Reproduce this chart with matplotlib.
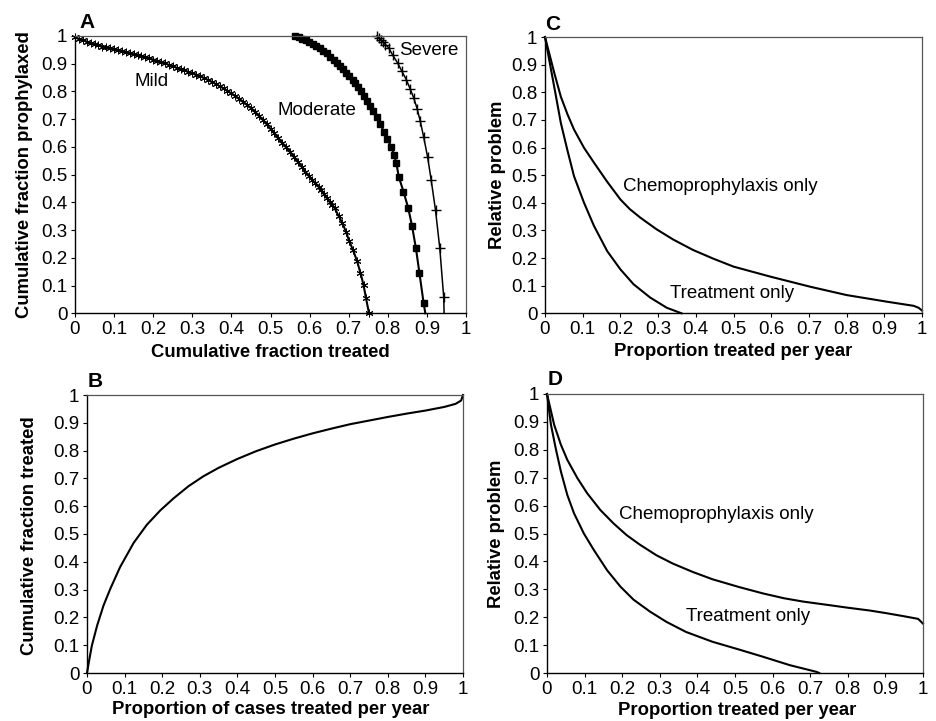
import matplotlib
matplotlib.use("Agg")
import matplotlib.pyplot as plt
import numpy as np

plt.rcParams['font.family'] = ['Liberation Sans', 'DejaVu Sans']

# ---------------- Panel A data ----------------
mild_x = [0.000, 0.010, 0.020, 0.030, 0.040, 0.050, 0.060, 0.070, 0.080, 0.090,
          0.100, 0.110, 0.120, 0.130, 0.140, 0.150, 0.160, 0.170, 0.180, 0.190,
          0.200, 0.210, 0.220, 0.230, 0.240, 0.250, 0.260, 0.270, 0.280, 0.290,
          0.300, 0.310, 0.320, 0.330, 0.340, 0.350, 0.360, 0.370, 0.380, 0.390,
          0.400, 0.410, 0.420, 0.430, 0.440, 0.450, 0.460, 0.470, 0.480, 0.490,
          0.500, 0.510, 0.520, 0.530, 0.540, 0.550, 0.560, 0.570, 0.580, 0.589,
          0.598, 0.607, 0.615, 0.623, 0.630, 0.636, 0.644, 0.651, 0.658, 0.664,
          0.674, 0.684, 0.693, 0.701, 0.711, 0.721, 0.730, 0.738, 0.744, 0.752]
mild_y = [0.995, 0.990, 0.985, 0.980, 0.976, 0.971, 0.967, 0.962, 0.959, 0.955,
          0.952, 0.949, 0.945, 0.942, 0.938, 0.935, 0.931, 0.927, 0.923, 0.919,
          0.915, 0.911, 0.906, 0.901, 0.896, 0.891, 0.886, 0.881, 0.876, 0.871,
          0.866, 0.861, 0.855, 0.849, 0.842, 0.835, 0.827, 0.819, 0.811, 0.802,
          0.793, 0.784, 0.774, 0.763, 0.752, 0.740, 0.727, 0.713, 0.698, 0.682,
          0.665, 0.649, 0.632, 0.615, 0.598, 0.582, 0.564, 0.546, 0.528, 0.511,
          0.496, 0.481, 0.469, 0.457, 0.444, 0.430, 0.416, 0.402, 0.391, 0.379,
          0.352, 0.325, 0.294, 0.262, 0.228, 0.190, 0.146, 0.102, 0.056, 0.000]

moderate_x = [0.563, 0.572, 0.581, 0.590, 0.599, 0.608, 0.617, 0.626, 0.635, 0.644,
              0.653, 0.662, 0.670, 0.678, 0.686, 0.694, 0.702, 0.710, 0.717, 0.724,
              0.731, 0.738, 0.746, 0.754, 0.763, 0.772, 0.781, 0.790, 0.799, 0.809,
              0.816, 0.822, 0.828, 0.840, 0.852, 0.862, 0.872, 0.881, 0.8915, 0.896]
moderate_y = [1.000, 0.995, 0.990, 0.984, 0.978, 0.971, 0.963, 0.955, 0.946, 0.937,
              0.926, 0.915, 0.904, 0.892, 0.880, 0.868, 0.855, 0.842, 0.829, 0.815,
              0.800, 0.784, 0.766, 0.747, 0.728, 0.707, 0.682, 0.655, 0.628, 0.600,
              0.571, 0.541, 0.493, 0.439, 0.381, 0.315, 0.234, 0.144, 0.038, 0.000]

severe_x = [0.772, 0.777, 0.782, 0.788, 0.794, 0.802, 0.813, 0.825, 0.836, 0.847,
            0.857, 0.866, 0.875, 0.883, 0.892, 0.902, 0.911, 0.922, 0.933, 0.943, 0.944]
severe_y = [1.000, 0.994, 0.987, 0.978, 0.969, 0.958, 0.930, 0.903, 0.873, 0.843,
            0.810, 0.778, 0.738, 0.693, 0.634, 0.562, 0.480, 0.372, 0.234, 0.058, 0.000]

# ---------------- Panel B data ----------------
b_x = [0.000, 0.005, 0.013, 0.027, 0.044, 0.062, 0.088, 0.124, 0.159, 0.195,
       0.230, 0.270, 0.310, 0.350, 0.400, 0.450, 0.500, 0.550, 0.600, 0.650,
       0.700, 0.750, 0.800, 0.850, 0.900, 0.950, 0.980, 0.995, 1.000]
b_y = [0.000, 0.040, 0.099, 0.171, 0.243, 0.303, 0.381, 0.468, 0.533, 0.585,
       0.628, 0.672, 0.708, 0.738, 0.770, 0.798, 0.822, 0.843, 0.862, 0.879,
       0.895, 0.908, 0.921, 0.933, 0.944, 0.957, 0.968, 0.980, 1.000]

# ---------------- Panel C data ----------------
c_chemo_x = [0.000, 0.0246, 0.042, 0.060, 0.077, 0.1035, 0.130, 0.165, 0.200, 0.225,
             0.253, 0.296, 0.340, 0.393, 0.446, 0.500, 0.597, 0.704, 0.800, 0.907,
             0.978, 0.991, 1.000]
c_chemo_y = [1.000, 0.870, 0.784, 0.719, 0.665, 0.599, 0.545, 0.476, 0.412, 0.377,
             0.346, 0.304, 0.267, 0.229, 0.198, 0.169, 0.133, 0.096, 0.066, 0.042,
             0.027, 0.020, 0.010]
c_treat_x = [0.000, 0.016, 0.029, 0.042, 0.060, 0.077, 0.1035, 0.130, 0.165, 0.200,
             0.235, 0.279, 0.323, 0.362]
c_treat_y = [1.000, 0.882, 0.786, 0.689, 0.587, 0.496, 0.400, 0.316, 0.225, 0.159,
             0.105, 0.057, 0.020, 0.000]

# ---------------- Panel D data ----------------
d_chemo_x = [0.000, 0.019, 0.037, 0.054, 0.081, 0.107, 0.142, 0.177, 0.212, 0.247,
             0.291, 0.335, 0.388, 0.440, 0.511, 0.575, 0.630, 0.681, 0.752, 0.800,
             0.858, 0.900, 0.947, 0.987, 1.000]
d_chemo_y = [1.000, 0.890, 0.818, 0.764, 0.698, 0.644, 0.584, 0.536, 0.494, 0.460,
             0.422, 0.392, 0.362, 0.336, 0.308, 0.285, 0.268, 0.256, 0.243, 0.234,
             0.224, 0.215, 0.204, 0.194, 0.177]
d_treat_x = [0.000, 0.0105, 0.024, 0.037, 0.054, 0.072, 0.098, 0.125, 0.160, 0.195,
             0.230, 0.274, 0.318, 0.370, 0.440, 0.511, 0.575, 0.646, 0.717, 0.724]
d_treat_y = [1.000, 0.890, 0.800, 0.722, 0.638, 0.572, 0.500, 0.440, 0.368, 0.310,
             0.263, 0.220, 0.183, 0.147, 0.112, 0.084, 0.058, 0.028, 0.004, 0.000]

ticks = [0, 0.1, 0.2, 0.3, 0.4, 0.5, 0.6, 0.7, 0.8, 0.9, 1]
tick_labels = ['0', '0.1', '0.2', '0.3', '0.4', '0.5', '0.6', '0.7', '0.8', '0.9', '1']

W, H = 936, 721
fig = plt.figure(figsize=(W / 100, H / 100), dpi=100)


def make_ax(left, top, right, bottom):
    return fig.add_axes([left / W, 1 - bottom / H, (right - left) / W, (bottom - top) / H])


axA = make_ax(75, 36, 466, 313.3)
axC = make_ax(545, 37, 922, 313.3)
axB = make_ax(87, 395, 463, 673)
axD = make_ax(547, 394, 923, 673)

LW = 1.5
TICK_FS = 13.5
LAB_FS = 13.3
ANN_FS = 13.5


def style(ax, letter, xlabel, ylabel, xl_pos, yl_pos, letter_pos):
    ax.set_xlim(0, 1)
    ax.set_ylim(0, 1)
    ax.set_xticks(ticks)
    ax.set_xticklabels(tick_labels)
    ax.set_yticks(ticks)
    ax.set_yticklabels(tick_labels)
    ax.tick_params(direction='out', length=3, width=0.8, labelsize=TICK_FS, pad=2.5)
    for s in ['left', 'bottom']:
        ax.spines[s].set_linewidth(1.0)
        ax.spines[s].set_color('black')
    for s in ['top', 'right']:
        ax.spines[s].set_linewidth(0.9)
        ax.spines[s].set_color('#555555')
    ax.set_xlabel(xlabel, fontsize=LAB_FS, fontweight='bold')
    ax.set_ylabel(ylabel, fontsize=LAB_FS, fontweight='bold')
    ax.xaxis.set_label_coords(*xl_pos)
    ax.yaxis.set_label_coords(*yl_pos)
    ax.xaxis.label.set_va('center')
    ax.yaxis.label.set_va('center')
    ax.text(letter_pos[0], letter_pos[1], letter, transform=ax.transAxes,
            fontsize=15, fontweight='bold', ha='center', va='center')


# Panel A
axA.plot(mild_x, mild_y, color='black', lw=LW, marker=(6, 2, 0), ms=5.5, mew=0.7)
axA.plot(moderate_x, moderate_y, color='black', lw=LW, marker='s', ms=5,
         markevery=slice(0, len(moderate_x) - 1))
axA.plot(severe_x, severe_y, color='black', lw=1.1, marker='+', ms=6.5, mew=1.0,
         markevery=slice(0, len(severe_x) - 1))
axA.text(0.196, 0.835, 'Mild', fontsize=ANN_FS, ha='center', va='center')
axA.text(0.619, 0.733, 'Moderate', fontsize=ANN_FS, ha='center', va='center')
axA.text(0.906, 0.947, 'Severe', fontsize=ANN_FS, ha='center', va='center')
style(axA, 'A', 'Cumulative fraction treated', 'Cumulative fraction prophylaxed',
      (0.5, -0.14), (-0.128, 0.5), (0.031, 1.05))

# Panel B
axB.plot(b_x, b_y, color='black', lw=LW)
style(axB, 'B', 'Proportion of cases treated per year', 'Cumulative fraction treated',
      (0.49, -0.133), (-0.152, 0.493), (0.021, 1.047))

# Panel C
axC.plot(c_chemo_x, c_chemo_y, color='black', lw=LW)
axC.plot(c_treat_x, c_treat_y, color='black', lw=LW)
axC.text(0.465, 0.458, 'Chemoprophylaxis only', fontsize=ANN_FS, ha='center', va='center')
axC.text(0.496, 0.072, 'Treatment only', fontsize=ANN_FS, ha='center', va='center')
style(axC, 'C', 'Proportion treated per year', 'Relative problem',
      (0.5, -0.14), (-0.125, 0.5), (0.021, 1.047))

# Panel D
axD.plot(d_chemo_x, d_chemo_y, color='black', lw=LW)
axD.plot(d_treat_x, d_treat_y, color='black', lw=LW)
axD.text(0.451, 0.568, 'Chemoprophylaxis only', fontsize=ANN_FS, ha='center', va='center')
axD.text(0.535, 0.203, 'Treatment only', fontsize=ANN_FS, ha='center', va='center')
style(axD, 'D', 'Proportion treated per year', 'Relative problem',
      (0.505, -0.133), (-0.133, 0.5), (0.021, 1.053))

for ax in (axA, axB, axC, axD):
    for line in ax.get_lines():
        line.set_clip_on(False)

fig.savefig('out.png', dpi=100)
